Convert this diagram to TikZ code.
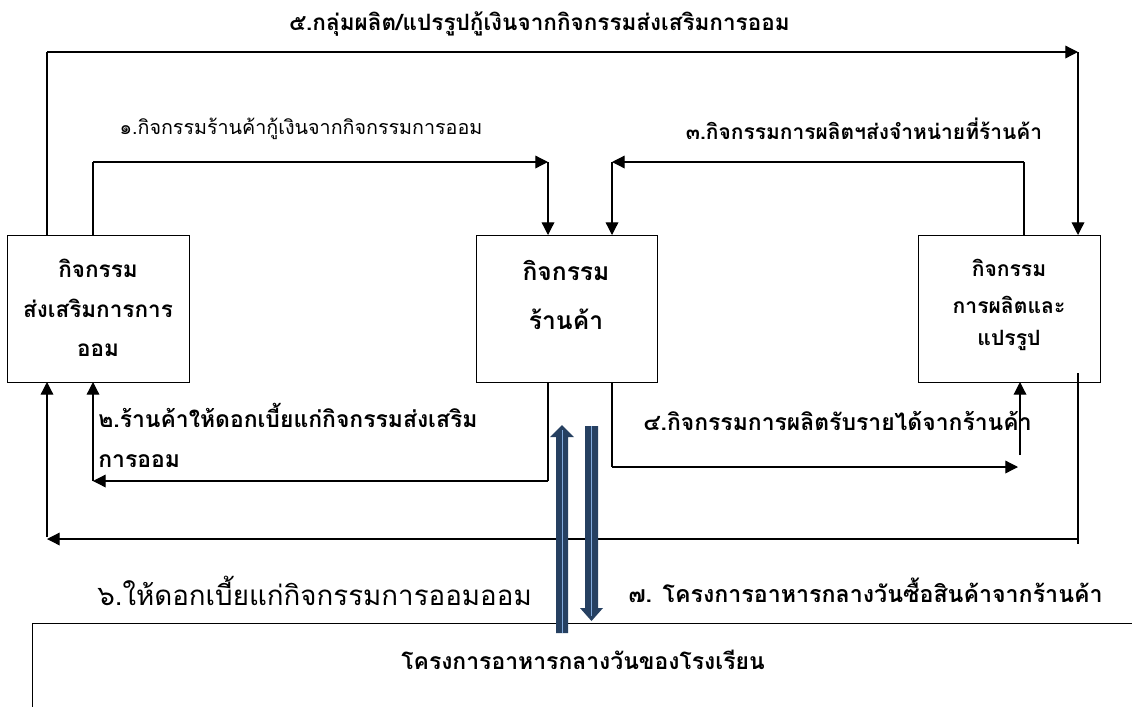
\documentclass[tikz,border=0pt]{standalone}
\usepackage{fontspec}
\usetikzlibrary{arrows.meta,calc}
\newfontfamily\thaifont[Script=Thai]{Loma}
\definecolor{navy}{RGB}{38,64,97}
\definecolor{lightblue}{RGB}{130,170,220}
\newcommand{\fs}[1]{\fontsize{#1}{#1}\selectfont}
\tikzset{
  boxnode/.style={draw,line width=0.8pt,inner sep=0pt,anchor=north west},
  conn/.style={line width=0.9pt},
  arr/.style={line width=0.9pt,-{Triangle[length=9pt,width=9pt]}},
  lbl/.style={font=\thaifont\bfseries,inner sep=0pt},
  lblthin/.style={font=\thaifont,inner sep=0pt},
  boxtxt/.style={font=\thaifont\bfseries,inner sep=0pt,align=center},
}
\begin{document}
\begin{tikzpicture}[x=0.025cm,y=-0.025cm]
\clip (0,0) rectangle (1132,706);
\fill[white] (0,0) rectangle (1132,706);
% boxes
\node[boxnode,minimum width=182*0.025cm,minimum height=147*0.025cm] (L) at (7,235) {};
\node[boxnode,minimum width=181*0.025cm,minimum height=147*0.025cm] (M) at (476,235) {};
\node[boxnode,minimum width=182*0.025cm,minimum height=147*0.025cm] (R) at (918,235) {};
\node[boxnode,minimum width=1200*0.025cm,minimum height=200*0.025cm] (S) at (32,623) {};
% box texts
\node[boxtxt] (Lt1) at (98,268) {\fs{16}กิจกรรม};
\node[boxtxt] (Lt2) at (98,308) {\fs{16}ส่งเสริมการการ};
\node[boxtxt] (Lt3) at (98,350) {\fs{16}ออม};
\node[boxtxt] (Mt1) at (566,270) {\fs{17.5}กิจกรรม};
\node[boxtxt] (Mt2) at (566,319) {\fs{17.5}ร้านค้า};
\node[boxtxt] (Rt1) at (1009,268) {\fs{15}กิจกรรม};
\node[boxtxt] (Rt2) at (1009,305) {\fs{15}การผลิตและ};
\node[boxtxt] (Rt3) at (1009,340) {\fs{15}แปรรูป};
\node[boxtxt] (St) at (583,660) {\fs{16.3}โครงการอาหารกลางวันของโรงเรียน};
% labels
\node[lbl,anchor=east] (l5) at (790,24) {\fs{16}๕.กลุ่มผลิต/แปรรูปกู้เงินจากกิจกรรมส่งเสริมการออม};
\node[lblthin] (l1) at (301,129) {\fs{14}๑.กิจกรรมร้านค้ากู้เงินจากกิจกรรมการออม};
\node[lbl] (l3) at (864,129) {\fs{14.9}๓.กิจกรรมการผลิตฯส่งจำหน่ายที่ร้านค้า};
\node[lbl,anchor=west] (l2a) at (98,415) {\fs{16.3}๒.ร้านค้าให้ดอกเบี้ยแก่กิจกรรมส่งเสริม};
\node[lbl,anchor=west] (l2b) at (98,461) {\fs{16.3}การออม};
\node[lbl,anchor=west] (l4) at (643,421) {\fs{16.3}๔.กิจกรรมการผลิตรับรายได้จากร้านค้า};
\node[lblthin,anchor=west] (l6) at (97,591) {\fs{19.7}๖.ให้ดอกเบี้ยแก่กิจกรรมการออมออม};
\node[lbl,anchor=west] (l7) at (628,590) {\fs{16.5}๗. โครงการอาหารกลางวันซื้อสินค้าจากร้านค้า};
% corner coordinates
\coordinate (a5s) at (47,235);
\coordinate (a5a) at (47,52);
\coordinate (a5b) at (1078,52);
\coordinate (a5e) at (1078,235);
\coordinate (a1s) at (93,235);
\coordinate (a1a) at (93,162);
\coordinate (a1b) at (548,162);
\coordinate (a1e) at (548,235);
\coordinate (a3s) at (1024,235);
\coordinate (a3a) at (1024,162);
\coordinate (a3b) at (612,162);
\coordinate (a3e) at (612,235);
\coordinate (a2s) at (548,382);
\coordinate (a2a) at (548,481);
\coordinate (a2b) at (93,481);
\coordinate (a2e) at (93,382);
\coordinate (a4s) at (612,382);
\coordinate (a4a) at (612,467);
\coordinate (a4b) at (1018,467);
\coordinate (a4c) at (1020,455);
\coordinate (a4e) at (1020,382);
\coordinate (a7s) at (1078,373);
\coordinate (a7a) at (1078,544);
\coordinate (a7b) at (1078,539);
\coordinate (a7c) at (47,539);
\coordinate (a7d) at (47,537);
\coordinate (a7e) at (47,382);
% connectors
\draw[conn] (a5s) -- (a5a);
\draw[arr] (a5a) -- (a5b);
\draw[arr] (a5b) -- (a5e);
\draw[conn] (a1s) -- (a1a);
\draw[arr] (a1a) -- (a1b);
\draw[arr] (a1b) -- (a1e);
\draw[conn] (a3s) -- (a3a);
\draw[arr] (a3a) -- (a3b);
\draw[arr] (a3b) -- (a3e);
\draw[conn] (a2s) -- (a2a);
\draw[arr] (a2a) -- (a2b);
\draw[arr] (a2b) -- (a2e);
\draw[conn] (a4s) -- (a4a);
\draw[arr] (a4a) -- (a4b);
\draw[arr] (a4c) -- (a4e);
\draw[conn] (a7s) -- (a7a);
\draw[arr] (a7b) -- (a7c);
\draw[arr] (a7d) -- (a7e);
% block arrows
\fill[navy] (556,633) -- (556,437) -- (550,437) -- (562,425) -- (574,437) -- (568,437) -- (568,633) -- cycle;
\draw[lightblue,line width=0.4pt] (562,430) -- (562,633);
\fill[navy] (585,426) -- (598,426) -- (598,608) -- (603,608) -- (591.5,621) -- (580,608) -- (585,608) -- cycle;
\draw[lightblue,line width=0.4pt] (591.5,426) -- (591.5,616);
\end{tikzpicture}
\end{document}
